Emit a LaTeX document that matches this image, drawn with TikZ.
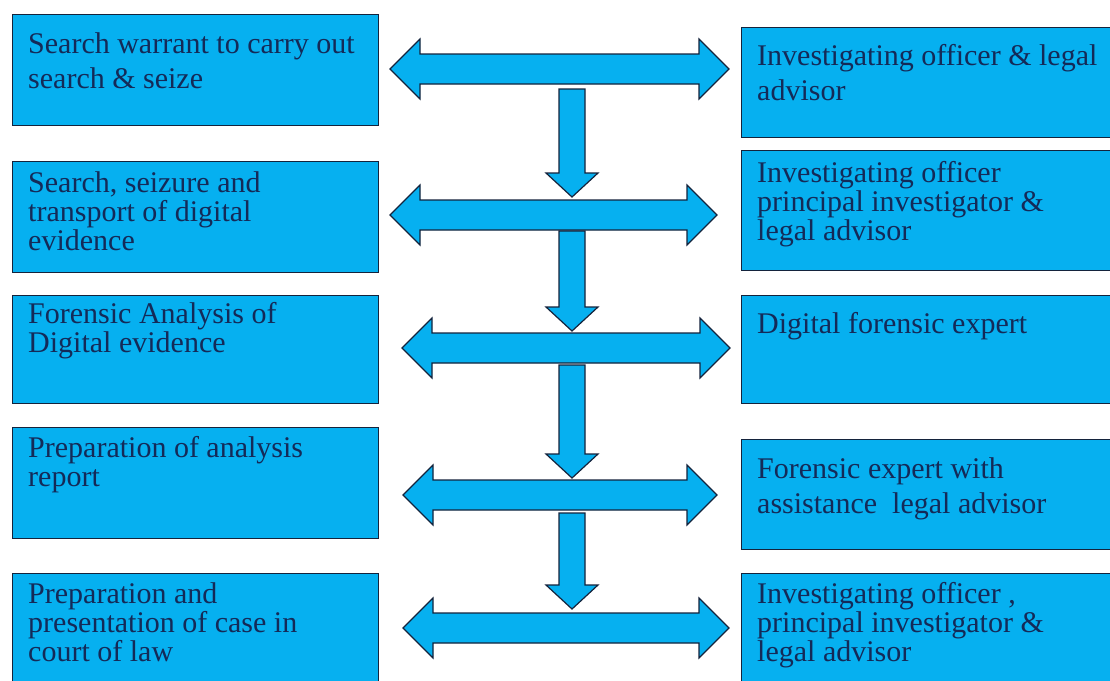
\documentclass[tikz,border=0pt]{standalone}
\usepackage{fontspec}
\setmainfont{Liberation Serif}
\usetikzlibrary{positioning}
\definecolor{boxblue}{RGB}{6,176,240}
\definecolor{inkblue}{RGB}{20,42,88}
\definecolor{rimblue}{RGB}{20,35,60}

\begin{document}
\begin{tikzpicture}[x = 1pt, y = -1pt,
  stage/.style = {draw = rimblue, fill = boxblue, line width = 1.2pt, anchor = north west, inner sep = 0pt},
  lstage/.style = {stage, minimum width = 366pt},
  rstage/.style = {stage, minimum width = 390pt},
  words/.style = {anchor = north west, inner sep = 0pt, align = left, text = inkblue, font = \fontsize{30}{29}\selectfont},
  wide/.style = {words, font = \fontsize{30}{35}\selectfont},
  blockarrow/.style = {draw = rimblue, fill = boxblue, line width = 1.2pt, line join = miter}]
  \fill[white] (0, 0) rectangle (1110, 680);
  \useasboundingbox (0, 0) rectangle (1110, 680);
  \node[lstage, minimum height = 111pt] at (12, 14) (L1) {};
  \node[lstage, minimum height = 111pt] at (12, 161) (L2) {};
  \node[lstage, minimum height = 108pt] at (12, 295) (L3) {};
  \node[lstage, minimum height = 111pt] at (12, 427) (L4) {};
  \node[lstage, minimum height = 125pt] at (12, 573) (L5) {};
  \node[rstage, minimum height = 110pt] at (741, 27) (R1) {};
  \node[rstage, minimum height = 120pt] at (741, 150) (R2) {};
  \node[rstage, minimum height = 108pt] at (741, 295) (R3) {};
  \node[rstage, minimum height = 110pt] at (741, 439) (R4) {};
  \node[rstage, minimum height = 125pt] at (741, 573) (R5) {};
  \node[wide, below right = 18pt and 16pt of L1.north west] (L1t) {Search warrant to carry out\\search \& seize};
  \node[words, below right = 10pt and 16pt of L2.north west] (L2t) {Search, seizure and\\transport of digital\\evidence};
  \node[words, below right = 7pt and 16pt of L3.north west] (L3t) {Forensic Analysis of\\Digital evidence};
  \node[words, below right = 9pt and 16pt of L4.north west] (L4t) {Preparation of analysis\\report};
  \node[words, below right = 9pt and 16pt of L5.north west] (L5t) {Preparation and\\presentation of case in\\court of law};
  \node[wide, below right = 17pt and 16pt of R1.north west] (R1t) {Investigating officer \& legal\\advisor};
  \node[words, below right = 11pt and 16pt of R2.north west] (R2t) {Investigating officer\\principal investigator \&\\legal advisor};
  \node[words, below right = 17pt and 16pt of R3.north west] (R3t) {Digital forensic expert};
  \node[wide, below right = 18pt and 16pt of R4.north west] (R4t) {Forensic expert with\\assistance\ \ legal advisor};
  \node[words, below right = 9pt and 16pt of R5.north west] (R5t) {Investigating officer ,\\principal investigator \&\\legal advisor};
  \foreach \xl/\xr/\y in {390/729/69, 390/717/215, 402/730/348, 403/717/495, 403/729/628}
  {
  \draw[blockarrow] (\xl, \y) -- ++(30, -30) -- ++(0, 15) -- ({\xr-30}, {\y-15}) -- ++(0, -15) -- (\xr, \y)
    -- ({\xr-30}, {\y+30}) -- ++(0, -15) -- ({\xl+30}, {\y+15}) -- ++(0, 15) -- cycle;
  }
  \foreach \ya/\yb in {89/197, 231/331, 365/478, 513/609}
  {
  \draw[blockarrow] (559, \ya) -- (585, \ya) -- (585, {\yb-24}) -- (598, {\yb-24}) -- (572, \yb)
    -- (546, {\yb-24}) -- (559, {\yb-24}) -- cycle;
  }
\end{tikzpicture}
\end{document}
